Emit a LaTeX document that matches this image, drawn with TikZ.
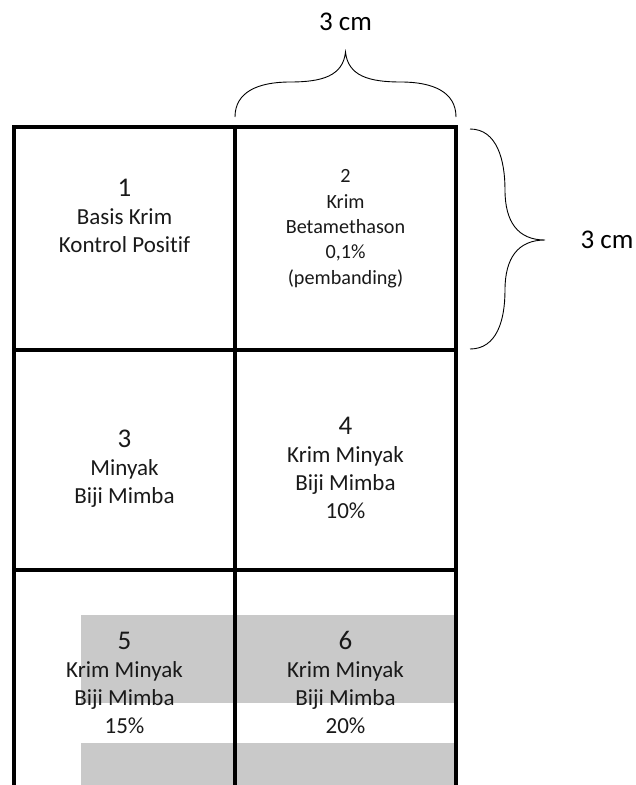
\documentclass[tikz,border=0pt]{standalone}
\usepackage{fontspec}
\setmainfont{Carlito}[Ligatures=NoCommon]

\tikzset{
  gridline/.style={line width=3.5pt, line cap=rect},
  cell/.style={anchor=base, align=center, text=black!90, font=\fontsize{23}{28}\selectfont},
  smallcell/.style={cell, font=\fontsize{20.2}{25.3}\selectfont},
  bracket/.style={line width=0.9pt},
  dimlabel/.style={font=\fontsize{27}{30}\selectfont},
  band/.style={fill=black!21, draw=none},
}
\newcommand{\cellnum}[1]{{\fontsize{27}{28}\selectfont #1}}

\begin{document}
\begin{tikzpicture}[x=1pt,y=-1pt]
	\useasboundingbox (0,0) rectangle (635,785);
	% grey bands
	\fill[band] (81,615) rectangle (456,703);
	\fill[band] (81,743) rectangle (456,785);
	% grid
	\draw[gridline] (14,785) -- (14,127) -- (456,127) -- (456,785);
	\draw[line width=4.5pt] (12,127) -- (458,127);
	\draw[gridline] (235,127) -- (235,785);
	\draw[gridline] (14,350) -- (456,350);
	\draw[gridline] (14,570) -- (456,570);
	% cells (base = last line)
	\node[cell] (c1) at (124.5,252) {\cellnum{1}\\Basis Krim\\Kontrol Positif};
	\node[smallcell] (c2) at (345.5,284) {2\\Krim\\Betamethason\\0,1\%\\(pembanding)};
	\node[cell] (c3) at (124.5,503) {\cellnum{3}\\Minyak\\Biji Mimba};
	\node[cell] (c4) at (345.5,518) {\cellnum{4}\\Krim Minyak\\Biji Mimba\\10\%};
	\node[cell] (c5) at (124.5,733) {\cellnum{5}\\Krim Minyak\\Biji Mimba\\15\%};
	\node[cell] (c6) at (345.5,733) {\cellnum{6}\\Krim Minyak\\Biji Mimba\\20\%};
	% width bracket
	\coordinate (wl) at (235,117);
	\coordinate (wr) at (456,117);
	\coordinate (wtip) at (345.5,52);
	\draw[bracket] (wl) .. controls (235,92) and (258,82) .. (290,82)
		.. controls (322,82) and (343,76) .. (wtip)
		.. controls (348,76) and (369,82) .. (401,82)
		.. controls (433,82) and (456,92) .. (wr);
	\node[dimlabel] (wlab) at (345.5,22) {3 cm};
	% height bracket
	\coordinate (ht) at (470,129);
	\coordinate (hb) at (470,349);
	\coordinate (htip) at (545,240);
	\draw[bracket] (ht) .. controls (497,129) and (505,160) .. (505,190)
		.. controls (505,222) and (518,240) .. (htip)
		.. controls (518,240) and (505,258) .. (505,290)
		.. controls (505,320) and (497,349) .. (hb);
	\node[dimlabel] (hlab) at (607,240) {3 cm};
\end{tikzpicture}
\end{document}
